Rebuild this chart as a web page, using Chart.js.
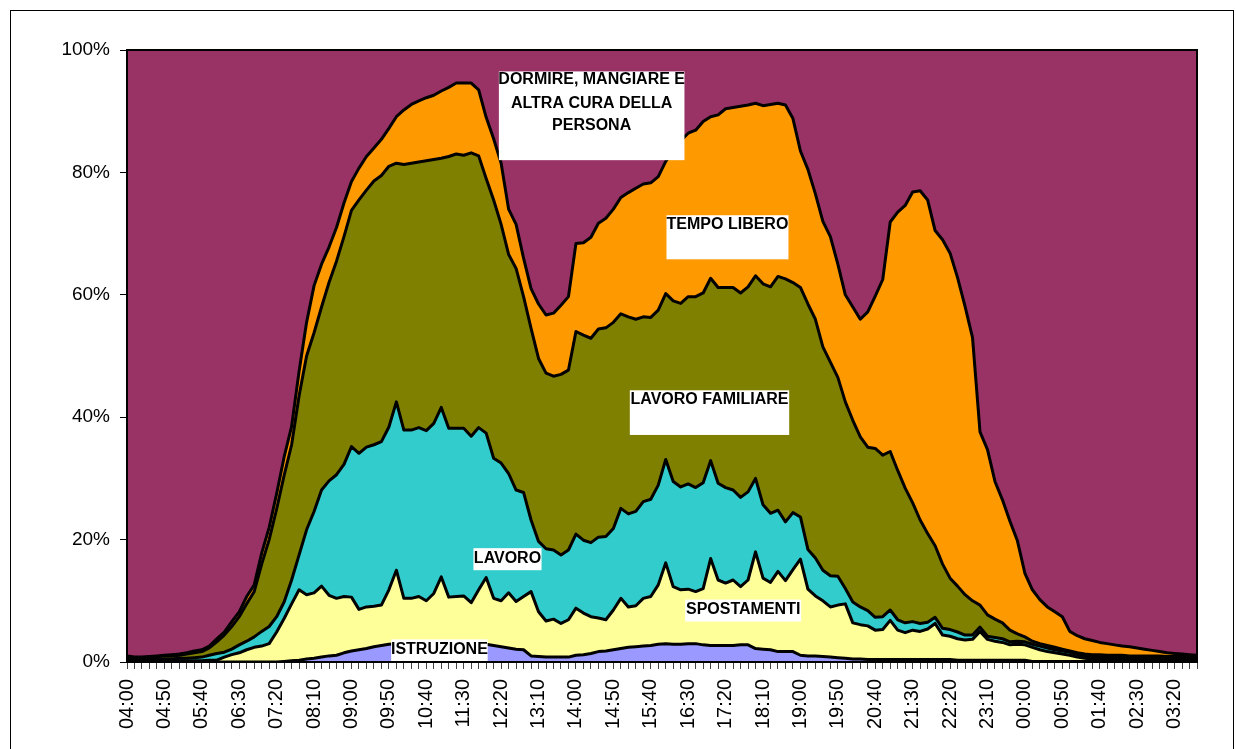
<!DOCTYPE html>
<html>
<head>
<meta charset="utf-8">
<title>Attività nella giornata</title>
<script src="https://cdn.jsdelivr.net/npm/chart.js@4.4.0/dist/chart.umd.min.js"></script>
<style>
  html, body { margin: 0; padding: 0; background: #fff; }
  #wrap { position: relative; width: 1236px; height: 749px; overflow: hidden; }
  #wrap canvas { position: absolute; left: 0; top: 0; }
  #frame { position: absolute; left: 10px; top: 10px; width: 1222px; height: 800px; border: 1px solid #000; pointer-events: none; }
</style>
</head>
<body>
<div id="wrap">
  <canvas id="grafico" width="1236" height="749"></canvas>
  <div id="frame"></div>
</div>
<script>
// orari (intervalli di 10 minuti, dalle 04:00 alle 03:50)
var orari = [
  '04:00','04:10','04:20','04:30','04:40','04:50',
  '05:00','05:10','05:20','05:30','05:40','05:50',
  '06:00','06:10','06:20','06:30','06:40','06:50',
  '07:00','07:10','07:20','07:30','07:40','07:50',
  '08:00','08:10','08:20','08:30','08:40','08:50',
  '09:00','09:10','09:20','09:30','09:40','09:50',
  '10:00','10:10','10:20','10:30','10:40','10:50',
  '11:00','11:10','11:20','11:30','11:40','11:50',
  '12:00','12:10','12:20','12:30','12:40','12:50',
  '13:00','13:10','13:20','13:30','13:40','13:50',
  '14:00','14:10','14:20','14:30','14:40','14:50',
  '15:00','15:10','15:20','15:30','15:40','15:50',
  '16:00','16:10','16:20','16:30','16:40','16:50',
  '17:00','17:10','17:20','17:30','17:40','17:50',
  '18:00','18:10','18:20','18:30','18:40','18:50',
  '19:00','19:10','19:20','19:30','19:40','19:50',
  '20:00','20:10','20:20','20:30','20:40','20:50',
  '21:00','21:10','21:20','21:30','21:40','21:50',
  '22:00','22:10','22:20','22:30','22:40','22:50',
  '23:00','23:10','23:20','23:30','23:40','23:50',
  '00:00','00:10','00:20','00:30','00:40','00:50',
  '01:00','01:10','01:20','01:30','01:40','01:50',
  '02:00','02:10','02:20','02:30','02:40','02:50',
  '03:00','03:10','03:20','03:30','03:40','03:50'
];

// percentuali cumulate (bordo superiore di ogni fascia)
var cumIstruzione = [
  0,0,0,0,0,0,0,0,0,0,
  0,0,0,0,0,0,0,0,0,0,
  0,0.1,0.2,0.3,0.5,0.6,0.8,1.0,1.1,1.5,
  1.8,2.0,2.2,2.5,2.7,2.9,3.0,3.0,3.0,3.0,
  3.0,3.0,3.0,3.0,3.0,3.0,3.0,2.9,2.9,2.7,
  2.5,2.3,2.1,2.0,1.0,0.9,0.8,0.8,0.8,0.8,
  1.1,1.2,1.4,1.7,1.8,2.0,2.2,2.4,2.5,2.6,
  2.7,2.9,3.0,2.9,2.9,3.0,3.0,2.8,2.7,2.7,
  2.7,2.7,2.8,2.8,2.2,2.1,2.0,1.7,1.7,1.7,
  1.1,1.0,1.0,0.9,0.8,0.7,0.6,0.5,0.5,0.4,
  0.4,0.4,0.4,0.4,0.4,0.4,0.4,0.4,0.4,0.4,
  0.4,0.3,0.3,0.3,0.3,0.3,0.3,0.3,0.3,0.3,
  0.3,0.1,0.1,0.1,0.1,0.1,0.1,0.1,0.1,0.1,
  0.1,0.1,0.1,0.1,0.1,0.1,0.1,0.1,0.1,0.1,
  0.1,0.1,0.1,0.1
];
var cumSpostamenti = [
  0.2,0.2,0.2,0.2,0.2,0.2,0.2,0.2,0.2,0.2,
  0.2,0.3,0.3,0.8,1.2,1.5,2.0,2.4,2.6,3.0,
  4.9,7.1,9.5,11.8,11.0,11.3,12.4,10.9,10.4,10.7,
  10.6,8.6,9.0,9.1,9.3,11.8,15.0,10.4,10.4,10.7,
  10.0,11.2,13.9,10.6,10.7,10.8,9.7,11.8,13.8,10.4,
  10.0,11.3,9.9,10.7,11.5,8.2,6.7,7.0,6.3,6.9,
  8.8,8.0,7.4,7.2,6.9,8.5,10.4,9.0,9.2,10.4,
  10.7,12.6,16.2,12.3,11.8,11.9,11.5,12.0,16.9,13.4,
  12.9,13.4,12.3,13.4,18.0,13.7,13.0,14.8,13.3,15.1,
  16.8,11.9,10.8,10.0,9.0,9.3,9.5,6.4,6.1,5.9,
  5.2,5.3,6.8,5.2,4.8,5.2,5.0,5.4,6.3,4.4,
  4.2,3.8,3.6,3.7,5.0,3.7,3.4,3.2,2.8,2.9,
  2.8,2.4,2.0,1.7,1.5,1.3,1.1,0.8,0.6,0.5,
  0.5,0.5,0.5,0.5,0.5,0.4,0.4,0.4,0.4,0.4,
  0.4,0.4,0.4,0.4
];
var cumLavoro = [
  0.4,0.4,0.4,0.4,0.5,0.5,0.5,0.6,0.6,0.7,
  0.8,1.1,1.4,1.6,2.1,2.8,3.4,4.1,5.0,5.8,
  7.4,9.8,13.4,17.5,21.6,24.6,28.1,29.6,30.6,32.3,
  35.2,34.1,35.1,35.5,36.0,38.4,42.5,37.9,37.9,38.3,
  37.8,39.0,41.6,38.2,38.2,38.2,36.9,38.3,37.4,33.3,
  32.5,30.8,28.1,27.7,23.2,19.7,18.5,18.3,17.5,18.3,
  20.9,19.9,19.5,20.4,20.5,21.8,25.1,24.2,24.6,26.2,
  26.6,28.9,33.1,29.5,28.6,29.1,28.5,29.3,32.9,29.2,
  28.5,28.1,26.9,27.8,30.0,25.7,24.3,24.8,22.9,24.4,
  23.7,18.4,17.0,15.0,14.1,14.0,12.0,9.8,9.0,8.4,
  7.3,7.4,8.5,6.9,6.4,6.6,6.3,6.5,7.3,5.5,
  5.3,4.9,4.4,4.4,5.7,4.2,4.0,3.8,3.3,3.4,
  3.3,2.9,2.6,2.3,2.0,1.8,1.6,1.2,1.0,0.8,
  0.8,0.8,0.8,0.8,0.7,0.7,0.7,0.7,0.7,0.7,
  0.6,0.6,0.6,0.6
];
var cumFamiliare = [
  0.8,0.7,0.7,0.8,0.9,1.0,1.0,1.1,1.3,1.5,
  1.7,2.3,3.3,4.4,5.8,7.4,9.5,11.5,16.0,20.0,
  25.0,30.5,35.5,43.5,50.0,53.8,58.0,62.0,65.5,69.5,
  73.8,75.5,77.1,78.6,79.5,81.0,81.5,81.3,81.5,81.7,
  81.9,82.1,82.3,82.6,83.0,82.8,83.2,82.7,79.0,75.5,
  71.5,66.6,64.3,59.7,54.5,49.6,47.2,46.7,47.0,47.7,
  54.0,53.4,52.9,54.4,54.6,55.5,56.9,56.4,56.0,56.4,
  56.3,57.5,60.2,59.0,58.6,59.7,59.7,60.3,62.7,61.2,
  61.2,61.2,60.3,61.3,63.1,61.8,61.3,63.0,62.6,62.0,
  61.2,58.5,56.0,51.5,49.0,46.5,42.5,39.5,36.8,35.1,
  34.9,33.8,34.4,31.3,28.4,26.0,23.2,21.0,19.0,16.0,
  13.7,12.4,11.0,10.0,9.3,7.7,7.0,6.4,5.2,4.6,
  4.1,3.4,3.0,2.7,2.4,2.1,1.8,1.5,1.3,1.2,
  1.2,1.1,1.1,1.1,1.0,1.0,1.0,1.0,1.0,0.9,
  0.9,0.9,0.9,0.9
];
var cumLibero = [
  1.0,0.8,0.8,0.9,1.0,1.1,1.2,1.3,1.5,1.8,
  2.0,2.6,3.8,4.9,6.6,8.2,10.7,12.6,17.8,22.0,
  27.5,33.5,38.5,47.5,55.5,61.5,65.0,67.8,71.0,75.0,
  78.5,80.7,82.6,84.0,85.4,87.2,89.1,90.2,91.1,91.7,
  92.2,92.6,93.3,93.9,94.6,94.6,94.6,93.5,89.0,85.5,
  81.5,74.0,71.5,66.0,61.0,58.5,56.7,57.0,58.3,59.7,
  68.4,68.5,69.4,71.7,72.5,74.0,75.9,76.7,77.4,78.1,
  78.3,79.3,81.8,83.5,85.2,86.4,86.9,88.3,89.1,89.4,
  90.4,90.6,90.8,91.0,91.3,90.9,91.1,91.3,91.0,88.8,
  83.5,80.5,76.5,72.0,69.5,65.0,60.0,58.0,56.0,57.2,
  59.8,62.5,71.9,73.5,74.6,76.8,77.0,75.5,70.5,69.0,
  66.8,62.8,58.1,53.0,37.6,34.7,29.5,26.5,23.0,19.8,
  14.5,11.8,10.2,9.0,8.2,7.4,5.0,4.3,3.8,3.5,
  3.2,3.0,2.8,2.6,2.5,2.3,2.1,1.9,1.7,1.5,
  1.4,1.3,1.2,1.1
];

var tickPercent = [0, 20, 40, 60, 80, 100];
var nomi = ['ISTRUZIONE', 'SPOSTAMENTI', 'LAVORO', 'LAVORO FAMILIARE', 'TEMPO LIBERO',
            'DORMIRE, MANGIARE E ALTRA CURA DELLA PERSONA'];
var colori = ['#9999FF', '#FFFF99', '#33CCCC', '#808000', '#FF9900', '#993366'];

// etichette nel grafico (posizione in unità dei dati: indice orario, percentuale)
var etichette = [
  { righe: ['DORMIRE, MANGIARE E', 'ALTRA CURA DELLA', 'PERSONA'], x0: 49.7, x1: 74.5, y0: 96.5, y1: 82.0, yt: [95.1, 91.3, 87.6] },
  { righe: ['TEMPO LIBERO'], x0: 72.1, x1: 88.4, y0: 73.0, y1: 65.8, yt: [71.4] },
  { righe: ['LAVORO FAMILIARE'], x0: 67.2, x1: 88.5, y0: 44.4, y1: 37.1, yt: [42.8] },
  { righe: ['LAVORO'], x0: 46.3, x1: 55.4, y0: 18.6, y1: 15.0, yt: [16.9] },
  { righe: ['SPOSTAMENTI'], x0: 74.6, x1: 90.1, y0: 10.2, y1: 6.6, yt: [8.6] },
  { righe: ['ISTRUZIONE'], x0: 35.3, x1: 48.2, y0: 3.7, y1: 0, yt: [2.1] }
];

var FONT = '"Liberation Sans", Arial, sans-serif';

function serie(nome, dati, colore, riempi) {
  return {
    label: nome,
    data: dati,
    backgroundColor: colore,
    borderColor: '#000',
    borderWidth: 3,
    borderJoinStyle: 'round',
    fill: riempi,
    pointRadius: 0,
    tension: 0
  };
}

var cornice = {
  id: 'cornice',
  afterDatasetsDraw: function (chart) {
    var ctx = chart.ctx, a = chart.chartArea;
    var sx = chart.scales.x, sy = chart.scales.y;
    ctx.save();
    ctx.font = 'bold 16px ' + FONT;
    ctx.textAlign = 'center';
    ctx.textBaseline = 'middle';
    etichette.forEach(function (e) {
      var l = sx.getPixelForValue(e.x0), r = sx.getPixelForValue(e.x1);
      var t = sy.getPixelForValue(e.y0), b = sy.getPixelForValue(e.y1);
      ctx.fillStyle = '#fff';
      ctx.fillRect(l, t, r - l, b - t);
      ctx.fillStyle = '#000';
      e.righe.forEach(function (riga, k) {
        ctx.fillText(riga, (l + r) / 2, sy.getPixelForValue(e.yt[k]));
      });
    });
    ctx.strokeStyle = '#000';
    ctx.lineWidth = 2;
    ctx.strokeRect(a.left, a.top, a.right - a.left, a.bottom - a.top);
    ctx.restore();
  }
};

new Chart(document.getElementById('grafico'), {
  type: 'line',
  data: {
    labels: orari,
    datasets: [
      serie(nomi[0], cumIstruzione, colori[0], 'origin'),
      serie(nomi[1], cumSpostamenti, colori[1], '-1'),
      serie(nomi[2], cumLavoro, colori[2], '-1'),
      serie(nomi[3], cumFamiliare, colori[3], '-1'),
      serie(nomi[4], cumLibero, colori[4], '-1'),
      { label: nomi[5], data: cumLibero, backgroundColor: colori[5], borderWidth: 0,
        fill: 'end', pointRadius: 0, tension: 0 }
    ]
  },
  options: {
    responsive: false,
    animation: false,
    devicePixelRatio: 1,
    layout: { padding: { left: 0, right: 39, top: 50, bottom: 0 } },
    plugins: {
      legend: { display: false },
      tooltip: { enabled: false },
      filler: { drawTime: 'beforeDatasetsDraw' }
    },
    scales: {
      x: {
        offset: false,
        grid: { display: true, drawOnChartArea: false, tickLength: 7, color: '#444', lineWidth: 1 },
        border: { display: true, color: '#000', width: 2 },
        ticks: {
          autoSkip: false,
          minRotation: 90,
          maxRotation: 90,
          padding: 10,
          color: '#000',
          font: { family: FONT, size: 20 },
          callback: function (v, i) { return i % 5 === 0 ? orari[i] : ''; }
        },
        afterFit: function (s) { s.height = 87; }
      },
      y: {
        min: 0,
        max: 100,
        grid: { display: true, drawOnChartArea: false, tickLength: 7, color: '#000', lineWidth: 1 },
        border: { display: true, color: '#000', width: 2 },
        afterBuildTicks: function (s) { s.ticks = tickPercent.map(function (v) { return { value: v }; }); },
        ticks: {
          padding: 10,
          color: '#000',
          font: { family: FONT, size: 19 },
          callback: function (v) { return v + '%'; }
        },
        afterFit: function (s) { s.width = 127; }
      }
    }
  },
  plugins: [cornice]
});
</script>
</body>
</html>
